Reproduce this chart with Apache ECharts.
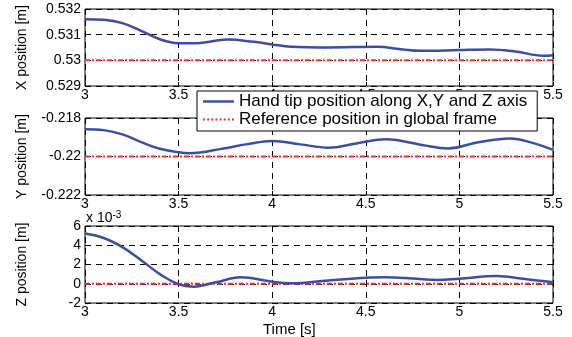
<!DOCTYPE html>
<html>
<head>
<meta charset="utf-8">
<script src="https://cdn.jsdelivr.net/npm/echarts@6/dist/echarts.min.js"></script>
<style>
  html, body { margin: 0; padding: 0; background: #fff; }
  #chart { width: 572px; height: 337px; }
</style>
</head>
<body>
<div id="chart"></div>
<script>
// time ticks shared by the three panels
const timeTicks = [3, 3.5, 4, 4.5, 5, 5.5];

// X position [m]
const tX = [3, 3.1, 3.2, 3.3, 3.4, 3.5, 3.6, 3.76, 3.9, 4.0, 4.1, 4.3, 4.56, 4.7, 4.8, 5.0, 5.16, 5.3, 5.45, 5.5];
const posX = [0.53160, 0.53158, 0.53145, 0.53115, 0.53082, 0.53067, 0.53067, 0.53081, 0.53072, 0.53062,
  0.53053, 0.53050, 0.53053, 0.53042, 0.53037, 0.53040, 0.53042, 0.53034, 0.53018, 0.53020];
const refX = 0.530;

// Y position [m]
const tY = [3, 3.1, 3.2, 3.3, 3.4, 3.5, 3.56, 3.74, 3.86, 4.0, 4.15, 4.3, 4.45, 4.61, 4.8, 4.94, 5.1, 5.27, 5.4, 5.5];
const posY = [-0.21858, -0.21863, -0.21885, -0.21925, -0.21960, -0.21978, -0.21983, -0.21958, -0.21937, -0.21919,
  -0.21937, -0.21954, -0.21932, -0.21911, -0.21940, -0.21958, -0.21926, -0.21906, -0.21932, -0.21966];
const refY = -0.220;

// Z position [x 10^-3 m]
const tZ = [3, 3.1, 3.2, 3.3, 3.4, 3.5, 3.58, 3.7, 3.83, 4.0, 4.1, 4.3, 4.5, 4.6, 4.75, 4.88, 5.0, 5.2, 5.35, 5.5];
const posZ = [5.22, 4.75, 3.8, 2.45, 1.0, -0.05, -0.3, 0.15, 0.67, 0.21, 0.05, 0.35, 0.63, 0.67, 0.55, 0.39, 0.53, 0.8, 0.5, 0.15];
const refZ = 0;

const NAME_POS = 'Hand tip position along X,Y and Z axis';
const NAME_REF = 'Reference position in global frame';
const BLUE = '#3b4ea6';
const RED = '#ff2b2b';
const FONT = 'Arial, "Liberation Sans", sans-serif';

const panels = [
  { t: tX, v: posX, ref: refX, min: 0.529, max: 0.532, step: 0.001, name: 'X position [m]', top: 9 },
  { t: tY, v: posY, ref: refY, min: -0.222, max: -0.218, step: 0.002, name: 'Y position [m]', top: 118 },
  { t: tZ, v: posZ, ref: refZ, min: -2, max: 6, step: 2, name: 'Z position [m]', top: 226 }
];

const gridLine = { show: true, lineStyle: { color: '#000', type: [6, 5], width: 1 } };
const tick = { show: true, inside: true, length: 4, lineStyle: { color: '#000' } };

// legend icons (31 x 17 box): solid bar / row of dots in the middle
const solidIcon = 'path://M0,7.5h31v2.5h-31z';
let dotIcon = 'path://';
for (let x = 0; x < 31; x += 4) dotIcon += 'M' + x + ',7.5h2v2h-2z ';

const option = {
  animation: false,
  backgroundColor: '#fff',
  textStyle: { fontFamily: FONT },
  grid: panels.map(p => ({
    left: 85, right: 19, top: p.top, height: 77,
    show: true, borderColor: '#000', borderWidth: 1, backgroundColor: 'transparent'
  })),
  xAxis: panels.map((p, i) => ({
    type: 'value', gridIndex: i, min: timeTicks[0], max: timeTicks[timeTicks.length - 1], interval: 0.5,
    axisLine: { show: false },
    axisTick: tick,
    splitLine: gridLine,
    axisLabel: { color: '#000', fontSize: 14, margin: 2, fontFamily: FONT }
  })),
  yAxis: panels.map((p, i) => ({
    type: 'value', gridIndex: i, min: p.min, max: p.max, interval: p.step,
    axisLine: { show: false },
    axisTick: tick,
    splitLine: gridLine,
    axisLabel: { color: '#000', fontSize: 14, margin: 4, fontFamily: FONT },
    name: p.name, nameLocation: 'middle', nameRotate: 90, nameGap: 56,
    nameTextStyle: { color: '#000', fontSize: 14, fontFamily: FONT }
  })),
  legend: {
    orient: 'vertical', left: 197, top: 91,
    backgroundColor: '#fff', borderColor: '#000', borderWidth: 1,
    padding: [2, 10, 3, 6], itemGap: 1, itemWidth: 31, itemHeight: 17,
    textStyle: { color: '#000', fontSize: 17, fontFamily: FONT },
    data: [
      { name: NAME_POS, icon: solidIcon },
      { name: NAME_REF, icon: dotIcon }
    ]
  },
  graphic: [
    {
      type: 'text', left: 86, top: 210,
      style: {
        text: 'x 10{sup|-3}', fill: '#000', fontSize: 14, fontFamily: FONT,
        rich: { sup: { fontSize: 10, verticalAlign: 'top', padding: [0, 0, 6, 0] } }
      }
    },
    {
      type: 'text', left: 263, top: 322,
      style: { text: 'Time [s]', fill: '#000', fontSize: 15, fontFamily: FONT }
    }
  ],
  series: []
};

panels.forEach((p, i) => {
  option.series.push({
    name: NAME_POS, type: 'line', xAxisIndex: i, yAxisIndex: i,
    data: p.t.map((t, k) => [t, p.v[k]]),
    smooth: 0.4, symbol: 'none',
    lineStyle: { color: BLUE, width: 2.5 }, itemStyle: { color: BLUE }, z: 3
  });
  option.series.push({
    name: NAME_REF, type: 'line', xAxisIndex: i, yAxisIndex: i,
    data: [[timeTicks[0], p.ref], [timeTicks[timeTicks.length - 1], p.ref]],
    symbol: 'none',
    lineStyle: { color: RED, width: 2, type: [5, 2, 2, 2] }, itemStyle: { color: RED }, z: 2
  });
});

const chart = echarts.init(document.getElementById('chart'), null, { renderer: 'canvas' });
chart.setOption(option);
</script>
</body>
</html>
